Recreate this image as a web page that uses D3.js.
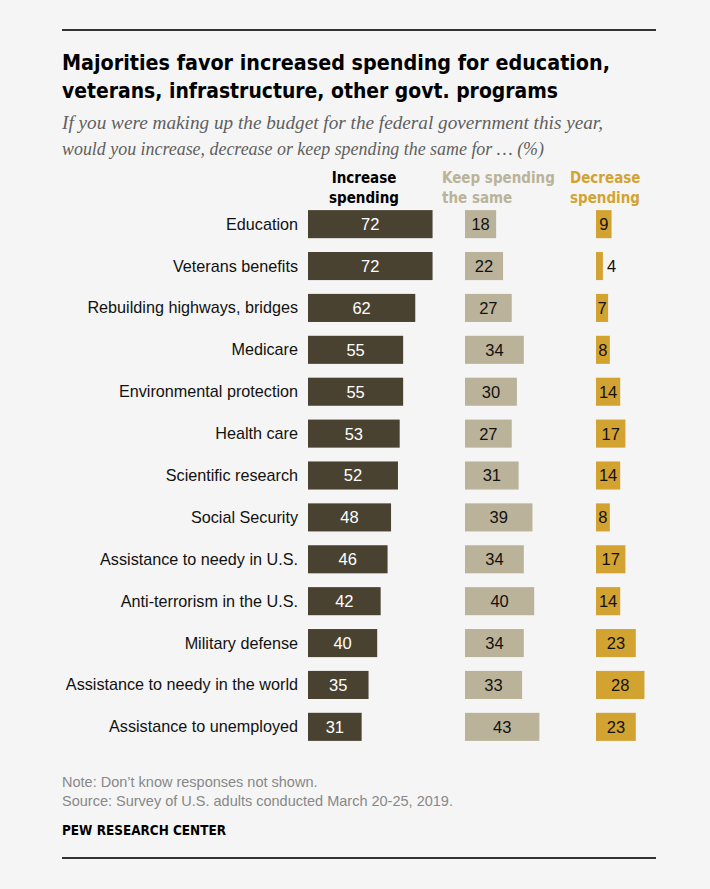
<!DOCTYPE html>
<html><head><meta charset="utf-8">
<script src="https://cdn.jsdelivr.net/npm/d3@7"></script>
<style>
html,body{margin:0;padding:0;background:#f5f5f5;}
svg{display:block;}
</style></head>
<body>
<script>
const categories = ["Education","Veterans benefits","Rebuilding highways, bridges","Medicare","Environmental protection","Health care","Scientific research","Social Security","Assistance to needy in U.S.","Anti-terrorism in the U.S.","Military defense","Assistance to needy in the world","Assistance to unemployed"];
const increaseVals = [72,72,62,55,55,53,52,48,46,42,40,35,31];
const keepVals = [18,22,27,34,30,27,31,39,34,40,34,33,43];
const decreaseVals = [9,4,7,8,14,17,14,8,17,14,23,28,23];
const seriesNames = [["Increase","spending"],["Keep spending","the same"],["Decrease","spending"]];

const W=710,H=889;
const svg=d3.select("body").append("svg").attr("width",W).attr("height",H);
svg.append("rect").attr("width",W).attr("height",H).attr("fill","#f5f5f5");

svg.append("line").attr("x1",62).attr("x2",656).attr("y1",30).attr("y2",30).attr("stroke","#333").attr("stroke-width",2);
svg.append("line").attr("x1",62).attr("x2",656).attr("y1",858).attr("y2",858).attr("stroke","#333").attr("stroke-width",2);

const titleFont="'DejaVu Sans Condensed','DejaVu Sans',sans-serif";
const t=svg.append("text").attr("x",62).attr("font-family",titleFont).attr("font-weight","bold").attr("font-size",21.5).attr("fill","#000");
t.append("tspan").attr("x",62).attr("y",70).attr("textLength",548).attr("lengthAdjust","spacingAndGlyphs").text("Majorities favor increased spending for education,");
t.append("tspan").attr("x",62).attr("y",98).attr("textLength",496).attr("lengthAdjust","spacingAndGlyphs").text("veterans, infrastructure, other govt. programs");

const st=svg.append("text").attr("font-family","'Liberation Serif','DejaVu Serif',serif").attr("font-style","italic").attr("font-size",18.5).attr("fill","#5f5f5f");
st.append("tspan").attr("x",62).attr("y",129).attr("textLength",541).attr("lengthAdjust","spacingAndGlyphs").text("If you were making up the budget for the federal government this year,");
st.append("tspan").attr("x",62).attr("y",155).attr("textLength",482).attr("lengthAdjust","spacingAndGlyphs").text("would you increase, decrease or keep spending the same for … (%)");

const font="'Liberation Sans',Arial,sans-serif";
const x=d3.scaleLinear().domain([0,100]).range([0,173]);
const y=d3.scaleBand().domain(categories).range([203,748]).paddingInner(0.33).paddingOuter(0.17);

const cols=[
 {vals:increaseVals,x0:308,fill:"#4a4231",text:"#fff",head:"#000",hx:364,anchor:"middle"},
 {vals:keepVals,x0:465,fill:"#bab399",text:"#111",head:"#bab399",hx:442,anchor:"start"},
 {vals:decreaseVals,x0:596,fill:"#d3a332",text:"#111",head:"#d3a332",hx:570,anchor:"start"}
];

cols.forEach((c,ci)=>{
  const h=svg.append("text").attr("font-family","'DejaVu Sans Condensed',"+font).attr("font-weight","bold").attr("font-size",15).attr("fill",c.head).attr("text-anchor",c.anchor);
  h.append("tspan").attr("x",c.hx).attr("y",183).text(seriesNames[ci][0]);
  h.append("tspan").attr("x",c.hx).attr("y",203).text(seriesNames[ci][1]);
  const g=svg.append("g");
  g.selectAll("rect").data(categories).join("rect")
    .attr("x",c.x0).attr("y",d=>y(d)).attr("height",y.bandwidth())
    .attr("width",(d,i)=>x(c.vals[i])).attr("fill",c.fill);
  g.selectAll("text").data(categories).join("text")
    .attr("x",(d,i)=> c.vals[i]<6 ? c.x0+x(c.vals[i])+4 : c.x0+x(c.vals[i])/2)
    .attr("text-anchor",(d,i)=> c.vals[i]<6 ? "start":"middle")
    .attr("y",d=>y(d)+y.bandwidth()/2).attr("dy","0.36em")
    .attr("font-family",font).attr("font-size",16.5).attr("fill",c.text)
    .text((d,i)=>c.vals[i]);
});

svg.append("g").selectAll("text").data(categories).join("text")
  .attr("x",298).attr("y",d=>y(d)+y.bandwidth()/2).attr("dy","0.34em")
  .attr("text-anchor","end").attr("font-family",font).attr("font-size",16.2).attr("fill","#111")
  .text(d=>d);

const n=svg.append("text").attr("font-family",font).attr("font-size",14.5).attr("fill","#888");
n.append("tspan").attr("x",62).attr("y",787).text("Note: Don’t know responses not shown.");
n.append("tspan").attr("x",62).attr("y",806).text("Source: Survey of U.S. adults conducted March 20-25, 2019.");
svg.append("text").attr("x",62).attr("y",835).attr("font-family","'DejaVu Sans Condensed',"+font).attr("font-weight","bold").attr("font-size",14).attr("fill","#000").attr("textLength",164).attr("lengthAdjust","spacingAndGlyphs").text("PEW RESEARCH CENTER");
</script>
</body></html>
